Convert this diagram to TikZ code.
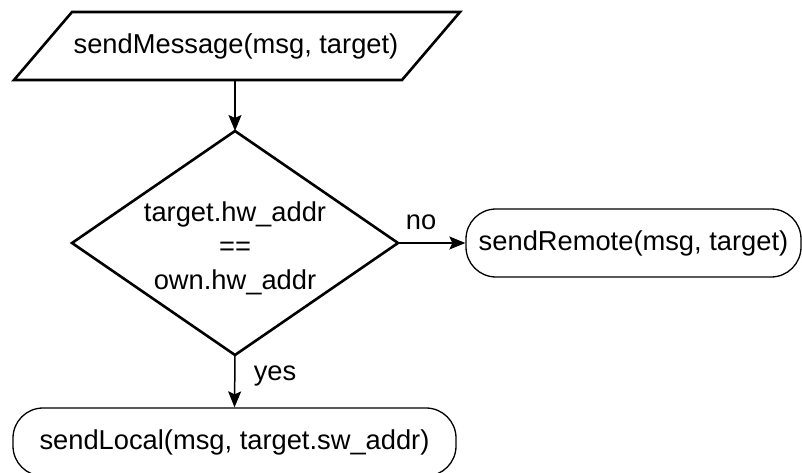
\documentclass[tikz,border=0pt]{standalone}
\usepackage{fontspec}
\setmainfont{Liberation Sans}
\usetikzlibrary{arrows.meta,shapes.geometric}
\tikzset{
  thickshape/.style={draw=black, line width=2.6pt, line join=miter},
  roundbox/.style={draw=black, line width=1.3pt, rounded corners=30pt, minimum height=68pt, inner sep=0pt},
  lbl/.style={font=\fontsize{27.3}{34}\selectfont, inner sep=0pt, align=center},
  arr/.style={draw=black, line width=1.5pt, -{Stealth[length=16pt,width=13pt,inset=3pt]}},
}
\begin{document}
\begin{tikzpicture}[x=1pt,y=-1pt]
\clip (0,0) rectangle (802,473);
\useasboundingbox (0,0) rectangle (802,473);
% input parallelogram
\coordinate (pTL) at (72,12);
\coordinate (pTR) at (460,12);
\coordinate (pBR) at (402,80);
\coordinate (pBL) at (14,80);
\draw[thickshape] (pTL) -- (pTR) -- (pBR) -- (pBL) -- cycle;
\node[lbl] (msg) at (236,46) {sendMessage(msg, target)};
\coordinate (pB) at (235,80);
% decision
\node[diamond, thickshape, minimum width=326pt, minimum height=224pt, inner sep=0pt, outer sep=0pt] (dec) at (235,243) {};
\node[lbl] (cond) at (235,248) {target.hw\_addr\\==\\own.hw\_addr};
% outcomes
\node[roundbox, minimum width=335pt, lbl] (remote) at (633.5,243) {sendRemote(msg, target)};
\node[roundbox, minimum width=443pt, lbl] (local) at (234.5,442) {sendLocal(msg, target.sw\_addr)};
% connectors
\draw[arr] (pB) -- (dec.north);
\draw[arr] (dec.east) -- (remote.west);
\draw[arr] (dec.south) -- (local.north);
\node[lbl] (no) at (421,222) {no};
\node[lbl] (yes) at (275,376) {yes};
\end{tikzpicture}
\end{document}
